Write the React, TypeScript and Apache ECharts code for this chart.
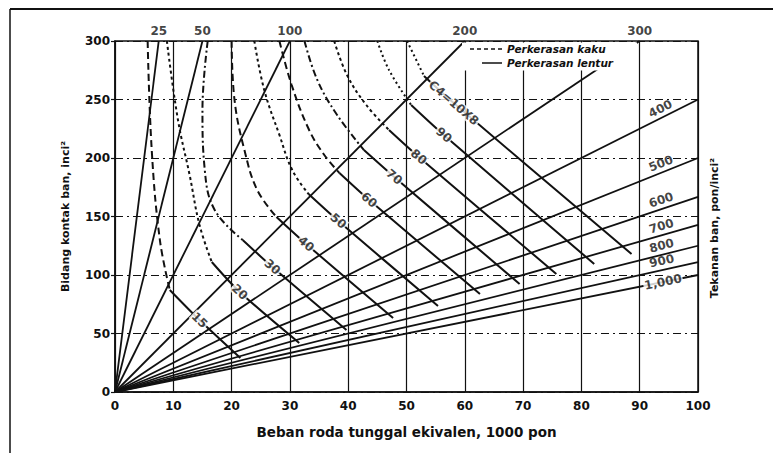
import React, { useEffect, useRef } from "react";
import * as echarts from "echarts";

// Tyre-pressure rays (psi): label and the far end of each ray from the origin
const topPressureLabels = ["25", "50", "100", "200", "300"];
const topPressureEnds: number[][] = [
  [7.5, 300], [15, 300], [30, 300], [60, 300], [90, 300],
];
const sidePressureLabels = ["400", "500", "600", "700", "800", "900", "1,000"];
const sidePressureEnds: number[][] = [
  [100, 250], [100, 200], [100, 166.7], [100, 142.9], [100, 125], [100, 111.1], [100, 100],
];

// Curve family labels
const curveLabels = ["15", "20", "30", "40", "50", "60", "70", "80", "90", "C4=10X8"];

// Rigid pavement branch (dashed), from the top edge down to the junction
const rigidCurves: number[][][] = [
  [[5.6, 300], [6.3, 206.8], [7.7, 129.9], [9.4, 87.2]],
  [[8.9, 300], [10.8, 232.5], [12.8, 185.5], [14.5, 142.7], [16.6, 111.1]],
  [[15.9, 300], [15.0, 241], [15.4, 189.7], [17.1, 155.6], [21.9, 129.9]],
  [[20.0, 300], [20.5, 249.6], [22.2, 206.8], [24.4, 172.6], [27.7, 149.6]],
  [[23.9, 300], [25.6, 258.1], [28.2, 219.7], [30.4, 189.7], [33.2, 169.2]],
  [[28.2, 300], [30.3, 262.4], [33.3, 223.9], [35.9, 202.6], [38.5, 187.2]],
  [[32.5, 300], [34.7, 266.7], [38.1, 236.8], [42.7, 206.8]],
  [[37.6, 300], [39.8, 270.9], [43.1, 245.3], [47.0, 223.9]],
  [[45.0, 300], [47.0, 275.2], [50.8, 245.3]],
  [[50.1, 300], [53.0, 270.1]],
];

// Flexible pavement branch (solid): junction, label point, end
const flexibleCurves: number[][][] = [
  [[9.4, 87.2], [14.5, 61.5], [21.5, 29.1]],
  [[16.6, 111.1], [21.4, 85.5], [31.6, 41.9]],
  [[21.9, 129.9], [27.0, 106.8], [39.7, 53.0]],
  [[27.7, 149.6], [32.8, 126.5], [47.7, 63.2]],
  [[33.2, 169.2], [38.3, 146.2], [55.4, 73.5]],
  [[38.5, 187.2], [43.6, 164.1], [62.6, 83.8]],
  [[42.7, 206.8], [47.9, 183.8], [69.4, 92.3]],
  [[47.0, 223.9], [52.1, 200.9], [75.7, 100.9]],
  [[50.8, 245.3], [56.4, 219.7], [82.2, 109.4]],
  [[53.0, 270.1], [58.1, 247.0], [88.6, 117.9]],
];

const rigidDash: number[][] = [
  [7, 4], [3, 3], [7, 3, 2, 3], [7, 4], [3, 3], [7, 4], [7, 3, 2, 3], [3, 3], [2, 3], [2, 3],
];

const FONT = "'DejaVu Sans', 'Liberation Sans', Arial, sans-serif";
const INK = "#111";

export default function App() {
  const ref = useRef<HTMLDivElement>(null);

  useEffect(() => {
    const el = ref.current;
    if (!el) return;
    const chart = echarts.init(el, null, { renderer: "svg" });

    const series: any[] = [];

    [...topPressureEnds, ...sidePressureEnds].forEach((end, i) => {
      series.push({
        type: "line",
        name: "p" + i,
        data: [[0, 0], end],
        symbol: "none",
        lineStyle: { color: INK, width: 1.8 },
        silent: true,
        z: 3,
      });
    });

    rigidCurves.forEach((pts, i) => {
      series.push({
        type: "line",
        name: "r" + i,
        data: pts,
        symbol: "none",
        smooth: 0.4,
        lineStyle: { color: INK, width: 2, type: rigidDash[i] },
        silent: true,
        z: 3,
      });
    });

    flexibleCurves.forEach((pts, i) => {
      series.push({
        type: "line",
        name: "f" + i,
        data: pts,
        symbol: "none",
        smooth: 0.3,
        lineStyle: { color: INK, width: 2 },
        silent: true,
        z: 3,
      });
    });

    const option: any = {
      animation: false,
      backgroundColor: "#fff",
      grid: {
        left: 115, right: 75, top: 41, bottom: 61,
        show: true, borderColor: INK, borderWidth: 1.5, backgroundColor: "transparent",
      },
      xAxis: {
        type: "value",
        min: 0, max: 100, interval: 10,
        name: "Beban roda tunggal ekivalen, 1000 pon",
        nameLocation: "middle",
        nameGap: 33,
        nameTextStyle: { fontFamily: FONT, fontWeight: "bold", fontSize: 13.5, color: INK },
        axisLine: { lineStyle: { color: INK, width: 1.5 } },
        axisTick: { show: false },
        axisLabel: { fontFamily: FONT, fontWeight: "bold", fontSize: 12, color: INK, margin: 8 },
        splitLine: { show: true, lineStyle: { color: INK, width: 1.2 } },
      },
      yAxis: {
        type: "value",
        min: 0, max: 300, interval: 50,
        name: "Bidang kontak ban, inci²",
        nameLocation: "middle",
        nameGap: 44,
        nameTextStyle: { fontFamily: FONT, fontWeight: "bold", fontSize: 11, color: INK },
        axisLine: { lineStyle: { color: INK, width: 1.5 } },
        axisTick: { show: true, length: 4, lineStyle: { color: INK, width: 1.2 } },
        axisLabel: { fontFamily: FONT, fontWeight: "bold", fontSize: 12, color: INK, margin: 5 },
        splitLine: { show: true, lineStyle: { color: INK, width: 1.2, type: [8, 4, 2, 4] } },
      },
      series,
      graphic: [
        { type: "line", shape: { x1: 10, y1: 9, x2: 773, y2: 9 }, style: { stroke: INK, lineWidth: 2 }, z: 100 },
        { type: "line", shape: { x1: 10, y1: 9, x2: 10, y2: 453 }, style: { stroke: INK, lineWidth: 1.5 }, z: 100 },
        { type: "rect", shape: { x: 462, y: 42.5, width: 175, height: 28 }, style: { fill: "#fff" }, z: 100 },
        { type: "line", shape: { x1: 470, y1: 49, x2: 502, y2: 49 }, style: { stroke: INK, lineWidth: 1.5, lineDash: [4, 3] }, z: 101 },
        { type: "line", shape: { x1: 482, y1: 63, x2: 502, y2: 63 }, style: { stroke: INK, lineWidth: 1.5 }, z: 101 },
        {
          type: "text", x: 507, y: 49, z: 101,
          style: { text: "Perkerasan kaku", font: `italic bold 10.5px ${FONT}`, fill: INK, textVerticalAlign: "middle" },
        },
        {
          type: "text", x: 507, y: 63, z: 101,
          style: { text: "Perkerasan lentur", font: `italic bold 10.5px ${FONT}`, fill: INK, textVerticalAlign: "middle" },
        },
        {
          type: "text", x: 714, y: 228, rotation: Math.PI / 2, z: 101,
          style: {
            text: "Tekanan ban, pon/inci²", font: `bold 11px ${FONT}`, fill: INK,
            textAlign: "center", textVerticalAlign: "middle",
          },
        },
      ],
    };

    chart.setOption(option);

    // Labels that follow the direction of their line
    const px = (p: number[]) => chart.convertToPixel({ gridIndex: 0 }, p) as number[];
    const angleOf = (a: number[], b: number[]) => {
      const pa = px(a);
      const pb = px(b);
      return (-Math.atan2(pb[1] - pa[1], pb[0] - pa[0]) * 180) / Math.PI;
    };

    const topLabelData = topPressureEnds.map((end, i) => ({
      value: end,
      name: topPressureLabels[i],
    }));

    const sideLabelData = sidePressureEnds.map((end, i) => {
      const t = 0.94;
      const last = i === sidePressureEnds.length - 1;
      return {
        value: [end[0] * t, end[1] * t],
        name: sidePressureLabels[i],
        label: last
          ? { rotate: angleOf([0, 0], end), position: "inside", backgroundColor: "#fff", padding: [0, 1] }
          : { rotate: angleOf([0, 0], end) },
      };
    });

    const curveLabelData = flexibleCurves.map((pts, i) => ({
      value: pts[1],
      name: curveLabels[i],
      label: { rotate: angleOf(pts[0], pts[2]) },
    }));

    const labelBase = {
      type: "scatter",
      symbolSize: 0,
      silent: true,
      clip: false,
      z: 10,
    };

    chart.setOption({
      series: [
        ...series,
        {
          ...labelBase,
          name: "topLabels",
          data: topLabelData,
          label: {
            show: true, position: "top", distance: 4, formatter: "{b}",
            fontFamily: FONT, fontWeight: "bold", fontSize: 12, color: INK,
          },
        },
        {
          ...labelBase,
          name: "sideLabels",
          data: sideLabelData,
          label: {
            show: true, position: "top", distance: 3, formatter: "{b}",
            fontFamily: FONT, fontWeight: "bold", fontSize: 12, color: INK,
          },
        },
        {
          ...labelBase,
          name: "curveLabels",
          data: curveLabelData,
          label: {
            show: true, position: "inside", formatter: "{b}",
            fontFamily: FONT, fontWeight: "bold", fontSize: 12, color: INK,
            backgroundColor: "#fff", padding: [0, 1],
          },
        },
      ],
    });

    return () => chart.dispose();
  }, []);

  return (
    <div
      ref={ref}
      style={{ position: "fixed", left: 0, top: 0, width: 773, height: 453, background: "#fff" }}
    />
  );
}
